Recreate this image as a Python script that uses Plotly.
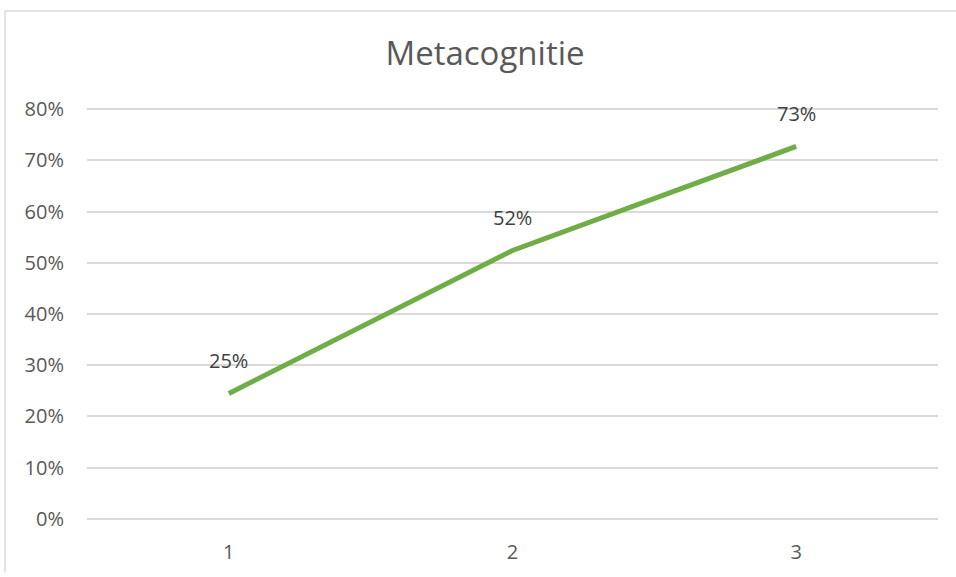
import plotly.graph_objects as go

categories = [1, 2, 3]
values = [0.245, 0.524, 0.727]
labels = ["25%", "52%", "73%"]
y_ticks = [0, 0.1, 0.2, 0.3, 0.4, 0.5, 0.6, 0.7, 0.8]
y_tick_text = ["0%", "10%", "20%", "30%", "40%", "50%", "60%", "70%", "80%"]
title = "Metacognitie"

W, H = 956, 577
PAD = 0.004  # small range padding so edge gridlines are drawn
ml, mr, mt, mb = 87, 18, 107, 52
font = "Open Sans, Lato, Noto Sans, sans-serif"

fig = go.Figure()
fig.add_trace(go.Scatter(
    x=categories, y=values, mode="lines",
    line=dict(color="#70AD47", width=5),
    hoverinfo="skip", showlegend=False,
))

for c, v, t in zip(categories, values, labels):
    fig.add_annotation(x=c, y=v, text=t, showarrow=False, yshift=33,
                       yanchor="middle", xanchor="center",
                       font=dict(family=font, size=20, color="#404040"))

# outer chart border (only left and top edges visible in the crop)
pw = W - ml - mr
ph = H - mt - mb
bx = (5 - ml) / pw
by = (H - mb - 10) / ph
border = dict(color="#D9D9D9", width=1.5)
fig.add_shape(type="line", xref="paper", yref="paper",
              x0=bx, x1=(W - ml) / pw, y0=by, y1=by, line=border, layer="below")
fig.add_shape(type="line", xref="paper", yref="paper",
              x0=bx, x1=bx, y0=-mb / ph, y1=by, line=border, layer="below")

fig.update_layout(
    width=W, height=H,
    margin=dict(l=ml, r=mr, t=mt, b=mb),
    paper_bgcolor="white", plot_bgcolor="white",
    title=dict(text=title, x=485 / W, xanchor="center",
               y=1 - 53 / H, yanchor="middle", yref="container",
               font=dict(family=font, size=33, color="#595959")),
    font=dict(family=font, color="#595959"),
    xaxis=dict(range=[0.5, 3.5], tickvals=categories,
               ticktext=[str(c) for c in categories],
               showgrid=False, zeroline=False, showline=False,
               ticks="", ticklabelstandoff=17,
               tickfont=dict(family=font, size=20, color="#595959")),
    yaxis=dict(range=[-PAD, 0.8 + PAD], tickvals=y_ticks, ticktext=y_tick_text,
               showgrid=True, gridcolor="#D9D9D9", gridwidth=1.5,
               zeroline=False, showline=False, ticks="",
               ticklabelstandoff=22,
               tickfont=dict(family=font, size=20, color="#595959")),
)

fig.write_html("out.html", config={"displayModeBar": False},
               post_script="document.body.style.margin='0';"
                           "document.body.style.overflow='hidden';"
                           "document.documentElement.style.overflow='hidden';")
